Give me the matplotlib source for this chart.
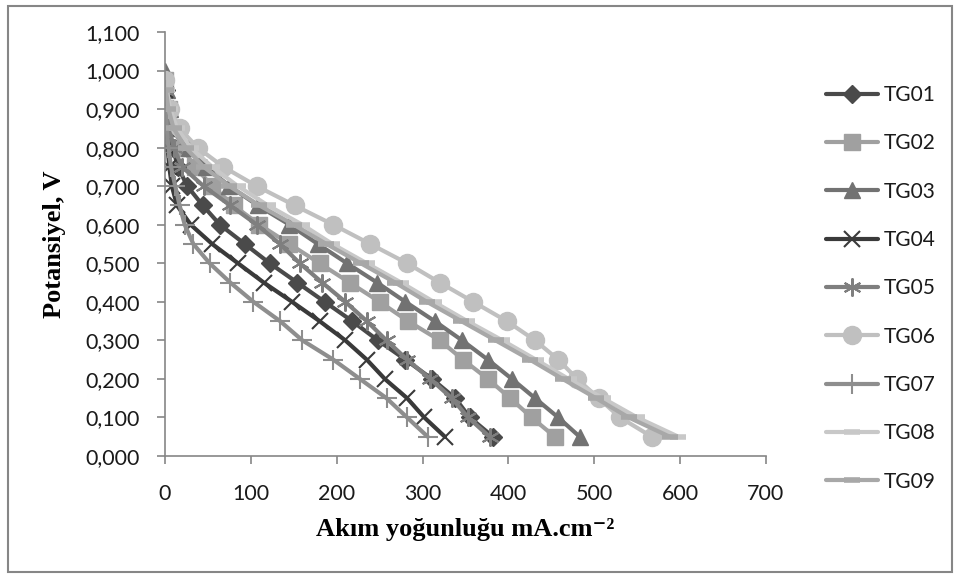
import matplotlib
matplotlib.use("Agg")
import matplotlib.pyplot as plt
import matplotlib.patches as patches
from matplotlib.ticker import FuncFormatter, MultipleLocator

plt.rcParams['font.family'] = ['Lato', 'DejaVu Sans']

# voltage steps (V)
v_std = [0.95, 0.90, 0.85, 0.80, 0.75, 0.70, 0.65, 0.60, 0.55, 0.50,
         0.45, 0.40, 0.35, 0.30, 0.25, 0.20, 0.15, 0.10, 0.05]
v_top = [0.975, 0.90, 0.85, 0.80, 0.75, 0.70, 0.65, 0.60, 0.55, 0.50,
         0.45, 0.40, 0.35, 0.30, 0.25, 0.20, 0.15, 0.10, 0.05]
v_full = [1.00, 0.95, 0.90, 0.85, 0.80, 0.75, 0.70, 0.65, 0.60, 0.55, 0.50,
          0.45, 0.40, 0.35, 0.30, 0.25, 0.20, 0.15, 0.10, 0.05]

# current density (mA/cm2)
tg01 = [1, 3, 5, 9, 15, 26, 44, 64, 93, 122, 154, 186, 218, 248, 280, 311, 338, 355, 382]
tg02 = [0, 5, 10, 20, 35, 55, 80, 110, 145, 180, 215, 250, 283, 320, 347, 376, 402, 427, 454]
tg03 = [0, 2, 6, 14, 28, 48, 75, 108, 145, 178, 212, 247, 280, 314, 346, 376, 404, 431, 458, 483]
tg04 = [0, 1, 2, 3, 5, 8, 14, 30, 55, 85, 115, 148, 180, 210, 235, 256, 282, 302, 326]
tg05 = [0, 2, 5, 10, 20, 45, 76, 107, 134, 157, 183, 210, 235, 258, 282, 309, 334, 353, 378]
tg06 = [0, 6, 17, 38, 68, 107, 151, 196, 239, 282, 320, 359, 398, 431, 458, 480, 505, 530, 567]
tg07 = [0, 1, 2, 4, 7, 12, 17, 23, 33, 52, 76, 103, 134, 160, 196, 227, 258, 282, 306]
tg08 = [2, 6, 14, 30, 55, 85, 120, 160, 195, 235, 275, 313, 352, 393, 432, 470, 510, 550, 598]
tg09 = [1, 4, 10, 24, 45, 75, 110, 150, 188, 228, 268, 305, 345, 385, 425, 463, 502, 540, 588]

labels = ['TG01', 'TG02', 'TG03', 'TG04', 'TG05', 'TG06', 'TG07', 'TG08', 'TG09']
series = [(tg01, v_std), (tg02, v_top), (tg03, v_full), (tg04, v_std), (tg05, v_std),
          (tg06, v_top), (tg07, v_std), (tg08, v_std), (tg09, v_std)]

# style per series: colour, marker, marker size, marker edge width
styles = [
    ('#4a4a4a', 'D', 9, 1),
    ('#a0a0a0', 's', 12, 1),
    ('#727272', '^', 12, 1),
    ('#3a3a3a', 'x', 12, 1.5),
    ('#7f7f7f', (6, 2, 0), 13, 1.5),
    ('#c0c0c0', 'o', 13, 1),
    ('#8e8e8e', '+', 14, 1.5),
    ('#c8c8c8', '_', 12, 4),
    ('#a8a8a8', '_', 12, 4),
]

fig = plt.figure(figsize=(9.6, 5.78), dpi=100)
ax = fig.add_axes([165 / 960, 1 - 456 / 578, (766 - 165) / 960, (456 - 32) / 578])

for (x, v), lab, (c, m, ms, mew) in zip(series, labels, styles):
    ax.plot(x, v, color=c, lw=3, marker=m, ms=ms, mew=mew, mec=c, mfc=c,
            label=lab, solid_capstyle='round')

ax.set_xlim(0, 700)
ax.set_ylim(0, 1.1)
ax.xaxis.set_major_locator(MultipleLocator(100))
ax.yaxis.set_major_locator(MultipleLocator(0.1))
ax.yaxis.set_major_formatter(FuncFormatter(lambda y, p: f"{y:.3f}".replace('.', ',')))

for s in ['top', 'right']:
    ax.spines[s].set_visible(False)
for s in ['left', 'bottom']:
    ax.spines[s].set_color('#868686')
    ax.spines[s].set_linewidth(1.2)
ax.tick_params(direction='out', length=6, width=1.2, color='#868686',
               labelsize=15.5, labelcolor='#1a1a1a')
ax.tick_params(axis='y', pad=12)
ax.tick_params(axis='x', pad=14)

serif = ['Liberation Serif', 'DejaVu Serif']
ax.set_ylabel('Potansiyel, V', family=serif, fontweight='bold',
              fontsize=19, labelpad=14)
ax.set_xlabel('Akım yoğunluğu mA.cm⁻²', family=serif,
              fontweight='bold', fontsize=19, labelpad=10)

leg = fig.legend(loc='upper left', bbox_to_anchor=(826 / 960, 1 - 85 / 578),
                 frameon=False, fontsize=15, handlelength=2.5, handletextpad=0.25,
                 labelspacing=1.36, borderpad=0, borderaxespad=0)
for t in leg.get_texts():
    t.set_color('#1a1a1a')

fig.patches.append(patches.Rectangle((8 / 960, 6 / 578), 944 / 960, 566 / 578,
                                     transform=fig.transFigure, fill=False,
                                     edgecolor='#868686', lw=1.5))

fig.savefig('out.png', dpi=100)
